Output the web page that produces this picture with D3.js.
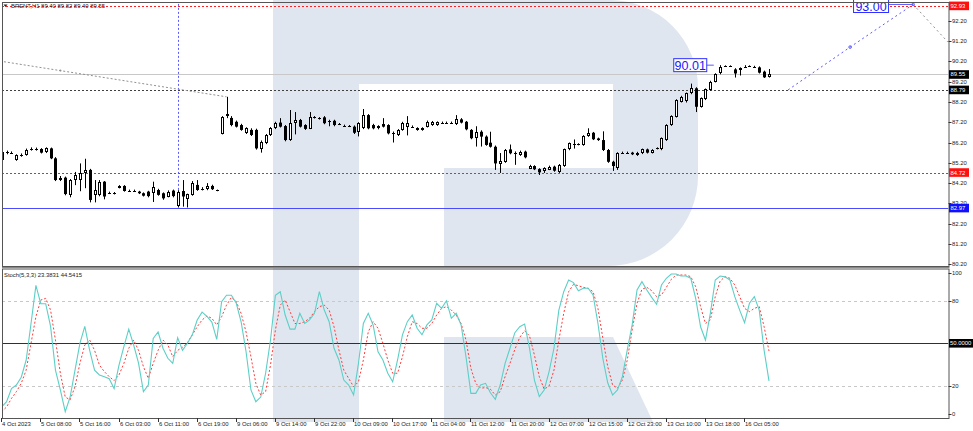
<!DOCTYPE html>
<html><head><meta charset="utf-8">
<script src="https://cdn.jsdelivr.net/npm/d3@7/dist/d3.min.js"></script>
<style>
html,body{margin:0;padding:0;background:#fff;}
svg{display:block;font-family:"Liberation Sans",Arial,sans-serif;}
</style></head><body>
<svg id="c" width="973" height="431"></svg>
<script>
// ---------- DATA ----------
const opens = [85.34,85.69,85.70,85.34,85.58,85.58,85.86,85.86,85.88,85.72,85.91,85.42,84.35,84.47,83.62,84.35,84.35,84.70,84.85,83.62,83.62,84.27,83.72,83.70,83.98,84.06,83.83,83.83,83.78,83.70,83.78,83.70,83.86,83.70,83.54,83.83,83.10,83.81,83.40,83.62,84.11,83.90,83.93,84.06,83.84,
86.65,87.50,87.41,87.22,87.06,86.67,86.82,86.82,85.91,86.18,86.57,86.91,87.18,87.01,86.32,87.16,87.31,87.06,86.90,87.44,87.39,87.44,87.27,87.27,87.11,87.03,87.01,86.98,86.73,86.90,87.55,87.06,86.90,87.11,87.06,86.68,86.57,86.82,86.95,86.98,86.82,86.82,86.98,87.06,87.06,87.18,87.18,87.18,87.11,87.34,87.22,86.82,86.41,86.73,86.49,86.19,85.99,
85.17,85.25,85.86,85.70,85.58,85.75,84.93,85.04,84.89,84.76,84.88,85.01,84.76,85.04,85.86,86.11,86.11,86.08,86.52,86.68,86.40,86.32,85.83,85.25,84.93,85.70,85.70,85.70,85.58,85.67,85.86,85.70,85.91,85.86,86.32,87.06,87.47,88.21,88.21,88.62,88.87,87.96,88.33,88.79,89.20,89.60,89.97,89.97,89.80,89.74,89.93,89.98,89.93,89.90,89.69,89.40];
const highs = [85.90,85.80,85.76,85.62,85.66,85.90,85.96,85.95,85.92,85.96,85.95,85.48,84.55,84.52,84.40,84.75,85.17,85.40,84.90,84.35,84.35,84.30,83.78,83.76,84.10,84.10,83.88,83.88,83.82,83.74,83.82,84.27,83.92,83.74,83.84,83.88,83.85,84.35,83.68,84.30,84.35,84.00,84.20,84.12,83.88,
87.50,88.45,87.50,87.28,87.12,86.95,86.90,86.88,86.30,86.62,86.96,87.22,87.40,87.06,87.80,87.70,87.36,87.10,87.70,87.50,87.45,87.50,87.32,87.32,87.16,87.08,87.06,87.04,87.20,87.85,87.60,87.12,87.05,87.40,87.10,86.74,86.86,87.22,87.50,87.04,86.95,86.95,87.28,87.26,87.24,87.23,87.23,87.23,87.55,87.40,87.26,86.86,87.00,86.80,86.55,86.73,86.05,
85.68,85.88,86.10,85.76,85.80,85.80,85.10,85.08,84.93,84.98,85.06,85.06,85.14,85.90,86.20,86.35,86.16,86.56,86.90,86.72,86.44,86.75,85.88,85.30,85.72,85.75,85.75,85.74,85.74,85.90,85.90,85.87,85.96,86.45,87.10,87.54,88.33,88.50,88.66,89.10,88.92,88.42,88.86,89.24,89.61,90.01,90.00,90.00,89.86,89.90,90.01,90.00,89.98,89.95,89.74,89.82];
const lows = [85.28,85.62,85.64,85.30,85.50,85.55,85.80,85.80,85.66,85.68,85.38,84.30,84.30,83.60,83.50,84.10,83.80,83.95,83.25,83.25,83.55,83.40,83.66,83.64,83.94,83.78,83.78,83.78,83.66,83.54,83.50,83.27,83.58,83.38,83.50,83.50,83.00,83.04,83.00,83.58,83.82,83.84,83.85,83.86,83.80,
86.60,87.40,87.00,86.94,86.78,86.62,86.52,85.85,85.70,86.12,86.52,86.86,86.94,86.26,86.28,86.60,86.94,86.82,86.86,87.38,87.33,87.10,87.00,87.00,87.06,86.98,86.96,86.62,86.50,86.86,86.85,86.85,86.85,86.94,86.60,86.20,86.52,86.78,86.55,86.92,86.78,86.78,86.94,87.02,87.02,87.13,87.13,87.13,87.06,87.14,86.80,86.36,86.00,86.00,86.04,85.95,84.85,
84.70,85.20,85.62,85.10,85.54,85.42,84.89,84.84,84.60,84.70,84.84,84.76,84.70,85.00,85.82,85.90,86.06,86.04,86.48,86.32,86.28,85.78,85.20,84.80,84.85,85.65,85.65,85.58,85.54,85.63,85.66,85.66,85.86,85.82,86.28,87.02,87.43,88.17,88.17,88.58,87.70,87.92,88.29,88.75,89.16,89.56,89.92,89.92,89.40,89.50,89.88,89.93,89.88,89.60,89.38,89.40];
const closes = [85.75,85.71,85.70,85.58,85.58,85.83,85.86,85.86,85.70,85.91,85.42,84.35,84.47,83.66,84.35,84.60,84.70,84.85,83.37,83.86,84.27,83.54,83.73,83.70,84.06,83.81,83.83,83.83,83.70,83.58,83.56,84.02,83.62,83.45,83.78,83.56,83.78,83.54,83.64,84.20,83.86,83.90,84.06,83.90,83.84,
87.47,87.60,87.06,86.98,86.82,86.91,86.57,85.91,86.24,86.57,86.91,87.16,86.98,86.32,87.16,87.31,86.98,86.87,87.47,87.44,87.39,87.15,87.27,87.06,87.11,87.03,87.01,86.68,87.16,87.55,86.90,86.90,87.00,86.98,86.65,86.68,86.82,87.18,87.15,86.98,86.90,86.90,87.22,87.22,87.20,87.18,87.18,87.18,87.34,87.18,86.85,86.41,86.73,86.49,86.08,85.99,85.17,
85.30,85.83,85.67,85.70,85.75,85.47,85.06,84.88,84.73,84.93,85.01,84.81,85.09,85.86,86.16,86.11,86.11,86.52,86.68,86.36,86.32,85.83,85.25,85.04,85.67,85.70,85.70,85.62,85.70,85.86,85.70,85.83,85.91,86.41,87.06,87.50,88.29,88.46,88.62,88.87,87.96,88.38,88.82,89.20,89.57,89.90,89.97,89.97,89.60,89.86,89.93,89.98,89.93,89.64,89.41,89.55];
const stochK = [5,8.7,18,20.5,26,38,64,91,78,78,62,31,17,1.6,12,31,50,62,45,31,27.6,26.4,25,18,34.6,47.6,60,48.8,36,15.8,20.5,53.5,58,46.5,39.4,35.8,54,45,50,56,66.5,72,69,65,52.8,79.4,84,84,78.3,65,44,
17,8.7,12,28.8,52.3,84,86.5,70,60,60,71.2,64,66.5,71.2,86.5,73.5,65.3,46.5,38.2,24,20.5,13.4,35.8,64,71.2,63,44,38.2,28.8,22.8,38.2,56,65.3,70,60.6,56,63,66.5,78.3,74.7,80.1,67.7,71.2,63,40.5,14.6,14.6,20.5,21.7,15,
10.4,20.5,35.8,46.5,57.5,61.7,63.6,46.5,24,12.3,17,30,46.5,73.5,86.5,94.8,92.9,87.2,88.9,88.9,84.2,64,39.4,22.1,13.4,17,26.4,45.3,63,87.7,93.6,87.7,82.5,77.6,91.2,96,99,99,97.6,97.6,96,81.8,61.7,52.3,71.2,94.8,97.6,97,94.8,83,73.5,64.6,78.3,83,73.5,45,23.3831];
const stochD = [1.6,5,11,15.8,21.7,31,50,68.8,80.6,81.8,73.5,52.3,28.8,12,10,19.3,35.8,48.8,52.3,45,34.6,30,26.4,23.6,27.6,35.8,46.5,52.3,45,33.5,25.2,35.8,45,52.3,48.8,40.5,45,47.2,50.4,56,61.7,66.5,69.3,67.7,63,68.8,77,82.5,79.4,71,58,
40.5,21.7,13.4,15.8,34.6,59.4,77,80.6,72.4,64,64,65.3,67.7,72.4,75.9,77,73.5,61.7,45.3,31,25.2,19.3,22.8,38.2,58,65.3,60.6,50,38.2,28.8,28.8,40.5,54.7,65.3,64,60.6,60.6,64,70,74.7,75.9,73.5,70,64,52.3,32.3,21.7,18.2,18.7,17.5,
13.4,15.8,26.4,35.8,45.7,54.2,58.9,55.2,41.7,26.4,17.5,19.8,31,52.3,71.2,86.5,91.7,90.7,89.6,88.9,86.5,74.7,53.5,33.5,20.5,18.2,24,38.2,59.4,78.3,88.2,89.6,87.2,83,84.2,89.6,95.2,98.3,98.3,98.3,97.1,90,75.9,64,66.5,83,94,97.1,96,91.2,83,74.7,72.4,74.7,75.9,61.7,44.5415];
const timeLabels = ["4 Oct 2023","5 Oct 08:00","5 Oct 16:00","6 Oct 03:00","6 Oct 11:00","6 Oct 19:00","9 Oct 06:00","9 Oct 14:00","9 Oct 22:00","10 Oct 09:00","10 Oct 17:00","11 Oct 04:00","11 Oct 12:00","11 Oct 20:00","12 Oct 07:00","12 Oct 15:00","12 Oct 23:00","13 Oct 10:00","13 Oct 18:00","16 Oct 05:00"];
const timeLabelBars = [0,8,16,24,32,40,48,56,64,72,80,88,96,104,112,120,128,136,144,152];
const priceTicks = [92.20,91.20,90.20,89.20,88.20,87.20,86.20,85.20,84.20,83.20,82.20,81.20,80.20];
const stochTicks = [100,80,20,0];
const levels = [ {p:92.93, color:"#ff2020", dash:"2,2", box:"#ff1010"},
                 {p:89.55, color:"#c8c8c8", dash:null, box:"#000"},
                 {p:88.79, color:"#404040", dash:"2,2", box:"#000"},
                 {p:84.72, color:"#ff2020", dash:"2,2", box:"#ff1010"},
                 {p:82.97, color:"#4a4aff", dash:null, box:"#1010ff"} ];
const trendLine = [{b:-0.35,p:90.21},{b:46,p:88.45}];
const forecastBlue = [{b:160.9,p:88.79},{b:173.6,p:90.90},{b:186.5,p:93.00}];
const forecastGray = [{b:186.5,p:93.00},{b:193.6,p:91.15}];
const vLineBar = 36.1, vLineTop = 92.93, vLineBottom = 82.97;
const header = "BRENT,H1  89.40 89.82 89.40 89.55";
const stochHeader = "Stoch(5,3,3) 23.3831 44.5415";

// ---------- LAYOUT ----------
const svg = d3.select('#c');
const PL=2, PR=948.5, MT=2, MB=266, ST=268.5, SB=418;
const x = d3.scaleLinear().domain([0,157]).range([1.7,769]);
const y = d3.scaleLinear().domain([80.2,90.2]).range([264.3,61.3]);
const ys = d3.scaleLinear().domain([0,100]).range([414,272.6]);
const FS = 5.9;

// watermark logo
const logo = svg.append('g').attr('fill','#dfe6ef');
logo.append('path').attr('d','M273,0H359V422H273Z');
logo.append('path').attr('d','M359,0H610A88,88 0 0 1 698,88V176A90,90 0 0 1 608,266H444V168H613V84H359Z');
logo.append('path').attr('d','M444,337H613L653,422H444Z');

// clip paths
const defs = svg.append('defs');
defs.append('clipPath').attr('id','cm').append('rect').attr('x',PL).attr('y',MT).attr('width',PR-PL).attr('height',MB-MT);
defs.append('clipPath').attr('id','cs').append('rect').attr('x',PL).attr('y',ST).attr('width',PR-PL).attr('height',SB-ST);

const gm = svg.append('g').attr('clip-path','url(#cm)');
const gs = svg.append('g').attr('clip-path','url(#cs)');

// level lines
levels.forEach(l=>{
  const yy = Math.round(y(l.p))+0.5;
  gm.append('line').attr('x1',PL).attr('x2',PR).attr('y1',yy).attr('y2',yy)
    .attr('stroke',l.color).attr('stroke-width',1).attr('stroke-dasharray',l.dash);
});

// vertical dotted line
gm.append('line').attr('x1',Math.round(x(vLineBar))+0.5).attr('x2',Math.round(x(vLineBar))+0.5)
  .attr('y1',y(vLineTop)-6).attr('y2',y(vLineBottom)).attr('stroke','#5a5aff').attr('stroke-dasharray','2,2');

// trend line
const lg = d3.line().x(d=>x(d.b)).y(d=>y(d.p));
gm.append('path').attr('d',lg(trendLine)).attr('fill','none').attr('stroke','#909090').attr('stroke-dasharray','2,2');
gm.append('circle').attr('cx',x(12)).attr('cy',y(90.21 + (88.45-90.21)*(12.35/46.35))).attr('r',1).attr('fill','#909090');

// candles
const cg = gm.append('g');
opens.forEach((o,i)=>{
  const c = closes[i], h = highs[i], l = lows[i];
  const cx = Math.round(x(i));
  cg.append('line').attr('x1',cx+0.5).attr('x2',cx+0.5).attr('y1',y(h)).attr('y2',y(l)).attr('stroke','#000').attr('stroke-width',1);
  const yt = y(Math.max(o,c)), yb = y(Math.min(o,c));
  if (yb-yt < 1.2) {
    cg.append('line').attr('x1',cx-1).attr('x2',cx+2).attr('y1',Math.round(yt)+0.5).attr('y2',Math.round(yt)+0.5).attr('stroke','#000');
  } else if (c >= o) {
    cg.append('rect').attr('x',cx-0.5).attr('y',Math.round(yt)+0.5).attr('width',2).attr('height',Math.max(1,Math.round(yb-yt)-1))
      .attr('fill','#fff').attr('stroke','#000').attr('stroke-width',1);
  } else {
    cg.append('rect').attr('x',cx-1).attr('y',yt).attr('width',3).attr('height',yb-yt).attr('fill','#000');
  }
});

// forecast
gm.append('path').attr('d',lg(forecastBlue)).attr('fill','none').attr('stroke','#5a5aff').attr('stroke-dasharray','2,3');
gm.append('path').attr('d',lg(forecastGray)).attr('fill','none').attr('stroke','#909090').attr('stroke-dasharray','2,3');
forecastBlue.slice(1).forEach(d=>{
  gm.append('circle').attr('cx',x(d.b)).attr('cy',y(d.p)).attr('r',1.3).attr('fill','none').attr('stroke','#5a5aff');
});

// price labels (annotation boxes)
function bigLabel(txt, bx, by, w, lineTo, lineY){
  const g = svg.append('g');
  if (lineTo) g.append('line').attr('x1',bx+w).attr('x2',lineTo).attr('y1',lineY).attr('y2',lineY).attr('stroke','#5a5aff');
  g.append('rect').attr('x',bx+0.5).attr('y',by+0.5).attr('width',w).attr('height',13).attr('fill','#fff').attr('stroke','#3030ff');
  g.append('text').attr('x',bx+w/2+0.5).attr('y',by+11.5).attr('text-anchor','middle').attr('font-size',12.5).attr('fill','#1a1aff').text(txt);
}
bigLabel("90.01", x(137)+2, y(90.01)-7, 33, x(145.7), y(90.01));
bigLabel("93.00", x(174.2), -1, 35, x(186.5), y(93.00));

// stoch levels
[80,20].forEach(v=>{
  const yy = Math.round(ys(v))+0.5;
  gs.append('line').attr('x1',PL).attr('x2',PR).attr('y1',yy).attr('y2',yy).attr('stroke','#c8c8c8').attr('stroke-dasharray','3,3');
});
gs.append('line').attr('x1',PL).attr('x2',PR).attr('y1',Math.round(ys(50))+0.5).attr('y2',Math.round(ys(50))+0.5).attr('stroke','#303030').attr('stroke-width',1.2);

const ls = d3.line().x((d,i)=>x(i)).y(d=>ys(d));
gs.append('path').attr('d',ls(stochD)).attr('fill','none').attr('stroke','#ff3b3b').attr('stroke-width',1).attr('stroke-dasharray','2,2');
gs.append('path').attr('d',ls(stochK)).attr('fill','none').attr('stroke','#5ccfc7').attr('stroke-width',1.1);

// panel borders
svg.append('rect').attr('x',PL+0.5).attr('y',MT+0.5).attr('width',PR-PL).attr('height',MB-MT).attr('fill','none').attr('stroke','#555');
svg.append('rect').attr('x',PL+0.5).attr('y',ST+0.5).attr('width',PR-PL).attr('height',SB-ST).attr('fill','none').attr('stroke','#555');
svg.append('line').attr('x1',PL).attr('x2',PR+1).attr('y1',MB+1.5).attr('y2',MB+1.5).attr('stroke','#888');

// right axis main
const ax = svg.append('g').attr('font-size',FS).attr('fill','#222');
priceTicks.forEach(p=>{
  const yy = y(p);
  ax.append('line').attr('x1',PR).attr('x2',PR+3).attr('y1',Math.round(yy)+0.5).attr('y2',Math.round(yy)+0.5).attr('stroke','#333');
  ax.append('text').attr('x',PR+3.5).attr('y',yy+2).text(p.toFixed(2));
});
levels.forEach(l=>{
  const yy = y(l.p);
  ax.append('rect').attr('x',PR+0.5).attr('y',yy-4.3).attr('width',20).attr('height',8.6).attr('fill',l.box);
  ax.append('text').attr('x',PR+2).attr('y',yy+2).attr('fill','#fff').text(l.p.toFixed(2));
});

// stoch axis
stochTicks.forEach(v=>{
  const yy = ys(v);
  ax.append('line').attr('x1',PR).attr('x2',PR+3).attr('y1',Math.round(yy)+0.5).attr('y2',Math.round(yy)+0.5).attr('stroke','#333');
  ax.append('text').attr('x',PR+3.5).attr('y',yy+2).text(String(v));
});
ax.append('rect').attr('x',PR+0.5).attr('y',ys(50)-4.3).attr('width',24).attr('height',8.6).attr('fill','#000');
ax.append('text').attr('x',PR+1.5).attr('y',ys(50)+2).attr('fill','#fff').text('50.0000');

// time axis
const tx = svg.append('g').attr('font-size',FS).attr('fill','#222');
timeLabelBars.forEach((b,k)=>{
  const xx = Math.round(x(b) - 0.4)+0.5;
  tx.append('line').attr('x1',xx).attr('x2',xx).attr('y1',SB).attr('y2',SB+4).attr('stroke','#333');
  tx.append('text').attr('x',xx+0.5).attr('y',SB+8.3).text(timeLabels[k]);
});

// headers
svg.append('path').attr('d','M3.5,4.5L7.5,4.5L5.5,7Z').attr('fill','#222');
svg.append('text').attr('x',11).attr('y',7.8).attr('font-size',FS).attr('fill','#222').text(header);
svg.append('text').attr('x',4).attr('y',276.8).attr('font-size',FS).attr('fill','#222').text(stochHeader);
</script>
</body></html>
